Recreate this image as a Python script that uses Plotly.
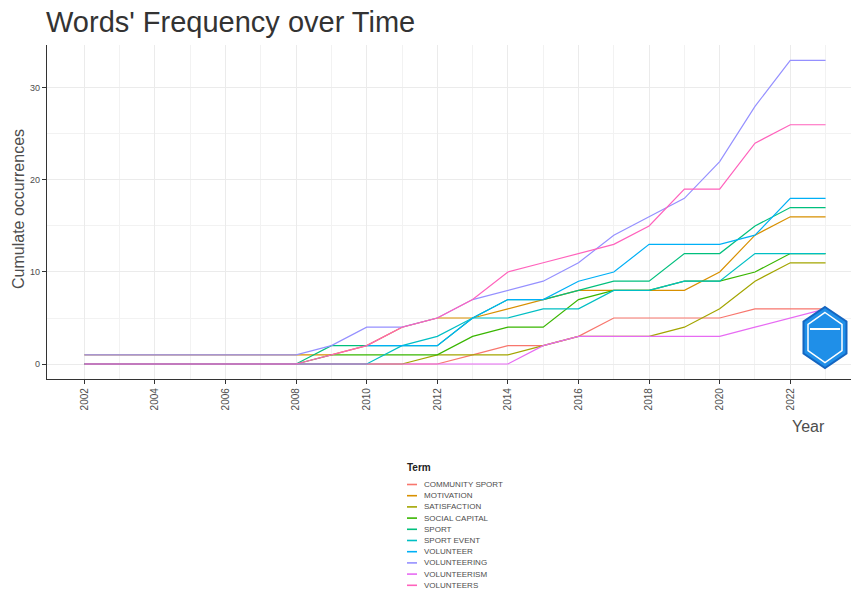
import plotly.graph_objects as go

# ---------------- data ----------------
years = [2002, 2003, 2004, 2005, 2006, 2007, 2008, 2009, 2010, 2011, 2012,
         2013, 2014, 2015, 2016, 2017, 2018, 2019, 2020, 2021, 2022, 2023]

terms = ["COMMUNITY SPORT", "MOTIVATION", "SATISFACTION", "SOCIAL CAPITAL", "SPORT",
         "SPORT EVENT", "VOLUNTEER", "VOLUNTEERING", "VOLUNTEERISM", "VOLUNTEERS"]

community_sport = [0, 0, 0, 0, 0, 0, 0, 0, 0, 0, 0, 1, 2, 2, 3, 5, 5, 5, 5, 6, 6, 6]
motivation      = [1, 1, 1, 1, 1, 1, 1, 1, 2, 4, 5, 5, 6, 7, 8, 8, 8, 8, 10, 14, 16, 16]
satisfaction    = [0, 0, 0, 0, 0, 0, 0, 0, 0, 0, 1, 1, 1, 2, 3, 3, 3, 4, 6, 9, 11, 11]
social_capital  = [0, 0, 0, 0, 0, 0, 0, 1, 1, 1, 1, 3, 4, 4, 7, 8, 8, 9, 9, 10, 12, 12]
sport           = [0, 0, 0, 0, 0, 0, 0, 2, 2, 2, 2, 5, 7, 7, 8, 9, 9, 12, 12, 15, 17, 17]
sport_event     = [0, 0, 0, 0, 0, 0, 0, 0, 0, 2, 3, 5, 5, 6, 6, 8, 8, 9, 9, 12, 12, 12]
volunteer       = [None, None, None, None, None, None, None, None, 2, 2, 2, 5, 7, 7, 9, 10, 13, 13, 13, 14, 18, 18]
volunteering    = [1, 1, 1, 1, 1, 1, 1, 2, 4, 4, 5, 7, 8, 9, 11, 14, 16, 18, 22, 28, 33, 33]
volunteerism    = [0, 0, 0, 0, 0, 0, 0, 0, 0, 0, 0, 0, 0, 2, 3, 3, 3, 3, 3, 4, 5, 6]
volunteers      = [0, 0, 0, 0, 0, 0, 0, 1, 2, 4, 5, 7, 10, 11, 12, 13, 15, 19, 19, 24, 26, 26]

series = [community_sport, motivation, satisfaction, social_capital, sport,
          sport_event, volunteer, volunteering, volunteerism, volunteers]

colors = ["#F8766D", "#D89000", "#A3A500", "#39B600", "#00BF7D",
          "#00BFC4", "#00B0F6", "#9590FF", "#E76BF3", "#FF62BC"]

x_ticks = [2002, 2004, 2006, 2008, 2010, 2012, 2014, 2016, 2018, 2020, 2022]
y_ticks = [0, 10, 20, 30]

# ---------------- layout geometry (pixels) ----------------
W, H = 852, 590
L, R, T, B = 47, 851, 45, 379


def px(p):
    return (p - L) / (R - L)


def py(p):
    return (B - p) / (B - T)


FONT = "Liberation Sans, Arial, sans-serif"

fig = go.Figure()
for name, vals, col in zip(terms, series, colors):
    fig.add_trace(go.Scatter(
        x=years, y=vals, mode="lines", name=name,
        line=dict(color=col, width=1.2), showlegend=False,
        connectgaps=False,
    ))

shapes = []
annotations = []

# custom compact legend (ggplot style)
annotations.append(dict(
    text="<b>Term</b>", x=px(405), y=py(467), xref="paper", yref="paper",
    xanchor="left", yanchor="middle", showarrow=False,
    font=dict(family=FONT, size=10, color="#222222")))
leg_y0 = 484.5
leg_dy = 11.2
for i, (name, col) in enumerate(zip(terms, colors)):
    yy = leg_y0 + i * leg_dy
    shapes.append(dict(type="line", xref="paper", yref="paper",
                       x0=px(407), x1=px(417), y0=py(yy), y1=py(yy),
                       line=dict(color=col, width=1.6)))
    annotations.append(dict(
        text=name, x=px(421.5), y=py(yy), xref="paper", yref="paper",
        xanchor="left", yanchor="middle", showarrow=False,
        font=dict(family=FONT, size=8, color="#4D4D4D")))

# axis titles
annotations.append(dict(
    text="Cumulate occurrences", x=px(18), y=py(209), xref="paper", yref="paper",
    textangle=-90, showarrow=False, xanchor="center", yanchor="middle",
    font=dict(family=FONT, size=16, color="#4D4D4D")))
annotations.append(dict(
    text="Year", x=px(808), y=py(426), xref="paper", yref="paper",
    showarrow=False, xanchor="center", yanchor="middle",
    font=dict(family=FONT, size=16, color="#4D4D4D")))


# decorative hexagon logo (bottom right)
def hexpath(cx, cy, hw, hh, side):
    pts = [(cx, cy - hh), (cx + hw, cy - side), (cx + hw, cy + side),
           (cx, cy + hh), (cx - hw, cy + side), (cx - hw, cy - side)]
    return "M " + " L ".join(f"{px(a):.5f},{py(b):.5f}" for a, b in pts) + " Z"


shapes.append(dict(type="path", xref="paper", yref="paper",
                   path=hexpath(825, 337.5, 21.5, 30.5, 16),
                   fillcolor="#1F8FE8", line=dict(color="#1565C0", width=2)))
shapes.append(dict(type="path", xref="paper", yref="paper",
                   path=hexpath(825, 337.5, 17, 25, 13),
                   fillcolor="rgba(0,0,0,0)", line=dict(color="white", width=1.5)))
shapes.append(dict(type="line", xref="paper", yref="paper",
                   x0=px(810), x1=px(840), y0=py(329), y1=py(329),
                   line=dict(color="white", width=2)))

fig.update_layout(
    width=W, height=H,
    margin=dict(l=L, r=W - R, t=T, b=H - B),
    paper_bgcolor="white", plot_bgcolor="white",
    title=dict(text="Words' Frequency over Time", x=46 / W, xref="container",
               xanchor="left", y=1 - 22 / H, yref="container", yanchor="middle",
               font=dict(family=FONT, size=29, color="#333333")),
    shapes=shapes, annotations=annotations,
    xaxis=dict(
        range=[2000.943, 2023.72], tickmode="array", tickvals=x_ticks,
        ticktext=[str(v) for v in x_ticks], tickangle=-90,
        showgrid=True, gridcolor="#EBEBEB", gridwidth=1,
        minor=dict(tickmode="array", tickvals=years, showgrid=True,
                   gridcolor="#F2F2F2", gridwidth=1, ticks=""),
        zeroline=False, showline=True, linecolor="#333333", linewidth=1.3,
        ticks="outside", ticklen=4, tickcolor="#333333", tickwidth=1,
        tickfont=dict(family=FONT, size=10, color="#4D4D4D"),
    ),
    yaxis=dict(
        range=[-1.63, 34.67], tickmode="array", tickvals=y_ticks,
        ticktext=[str(v) for v in y_ticks],
        showgrid=True, gridcolor="#EBEBEB", gridwidth=1,
        minor=dict(tickmode="array", tickvals=[5, 15, 25], showgrid=True,
                   gridcolor="#F2F2F2", gridwidth=1, ticks=""),
        zeroline=False, showline=True, linecolor="#333333", linewidth=1.3,
        ticks="outside", ticklen=4, tickcolor="#333333", tickwidth=1,
        tickfont=dict(family=FONT, size=9, color="#4D4D4D"),
    ),
)

fig.write_html("out.html", config={"displayModeBar": False},
               post_script="document.body.style.margin='0px';")
